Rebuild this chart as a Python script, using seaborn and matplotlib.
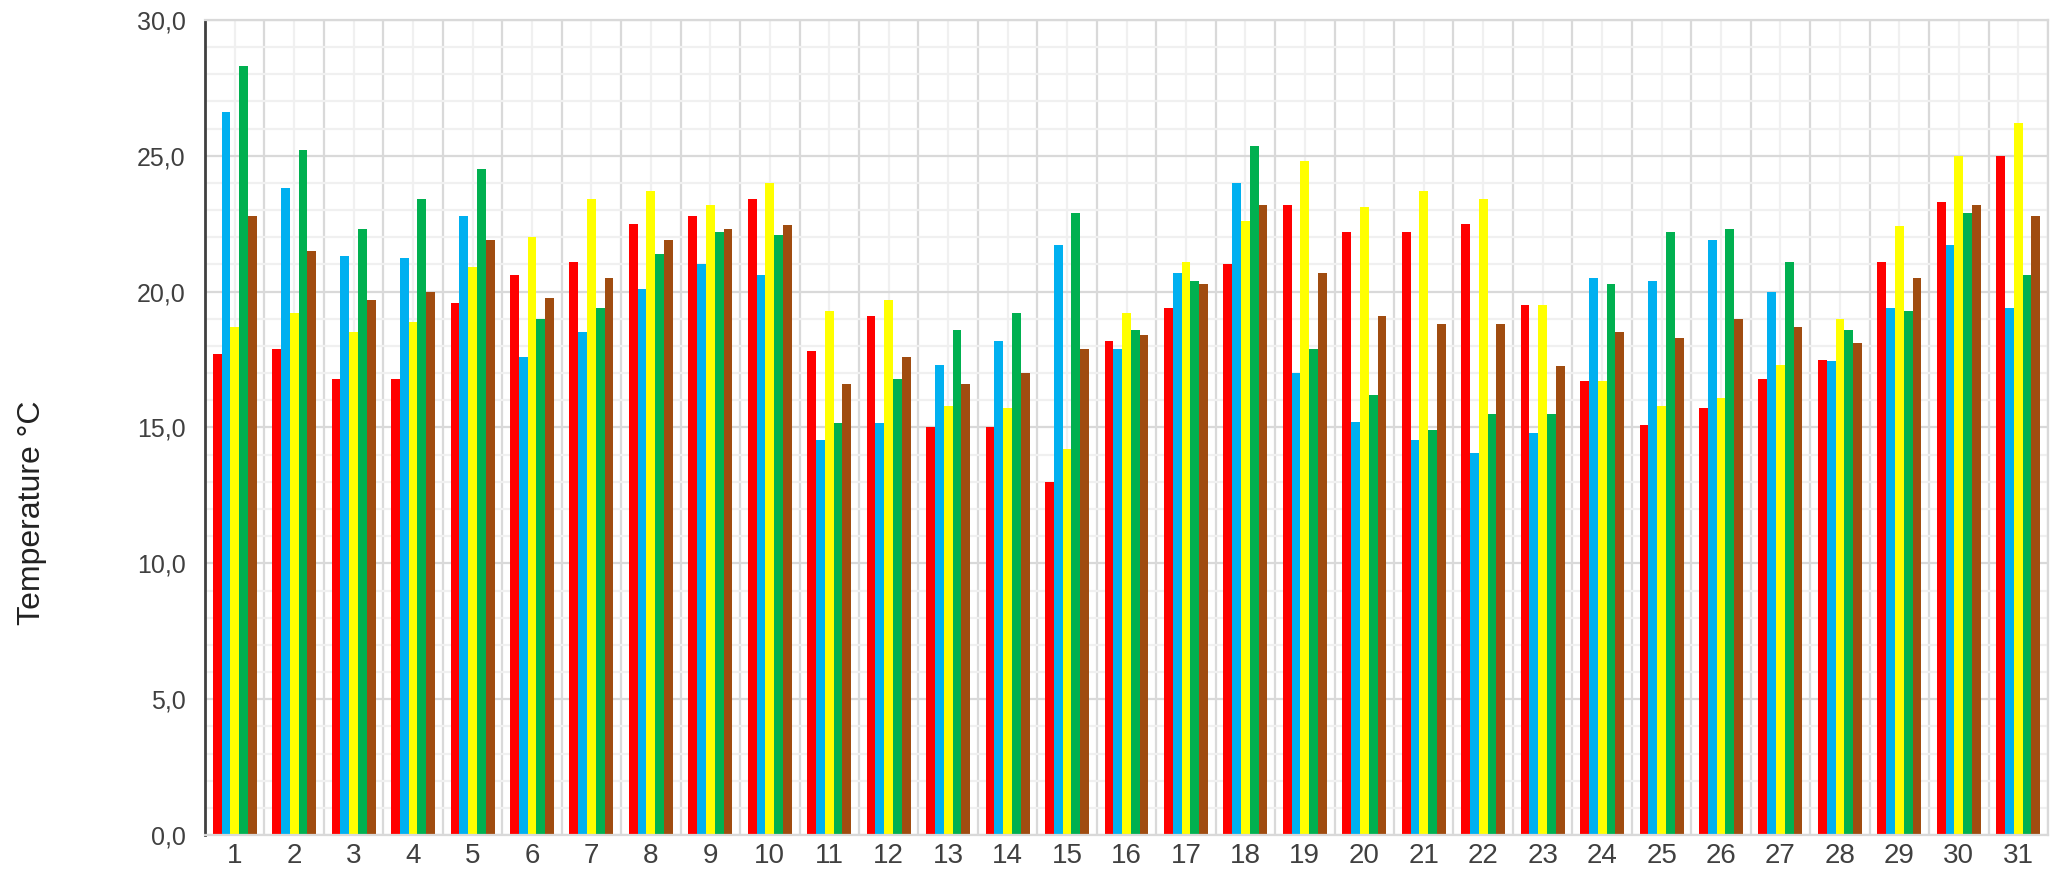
import numpy as np
import pandas as pd
import seaborn as sns
import matplotlib.pyplot as plt
from matplotlib.ticker import FixedLocator, FuncFormatter, MultipleLocator

days = [str(d) for d in range(1, 32)]

red_vals = [17.7, 17.9, 16.8, 16.8, 19.6, 20.6, 21.1, 22.5, 22.8, 23.4, 17.8,
            19.1, 15.0, 15.0, 13.0, 18.2, 19.4, 21.0, 23.2, 22.2, 22.2, 22.5,
            19.5, 16.7, 15.1, 15.7, 16.8, 17.5, 21.1, 23.3, 25.0]
blue_vals = [26.6, 23.8, 21.3, 21.25, 22.8, 17.6, 18.5, 20.1, 21.0, 20.6, 14.55,
             15.15, 17.3, 18.2, 21.7, 17.9, 20.7, 24.0, 17.0, 15.2, 14.55, 14.05,
             14.8, 20.5, 20.4, 21.9, 20.0, 17.45, 19.4, 21.7, 19.4]
yellow_vals = [18.7, 19.2, 18.5, 18.9, 20.9, 22.0, 23.4, 23.7, 23.2, 24.0, 19.3,
               19.7, 15.8, 15.7, 14.2, 19.2, 21.1, 22.6, 24.8, 23.1, 23.7, 23.4,
               19.5, 16.7, 15.8, 16.1, 17.3, 19.0, 22.4, 25.0, 26.2]
green_vals = [28.3, 25.2, 22.3, 23.4, 24.5, 19.0, 19.4, 21.4, 22.2, 22.1, 15.15,
              16.8, 18.6, 19.2, 22.9, 18.6, 20.4, 25.35, 17.9, 16.2, 14.9, 15.5,
              15.5, 20.3, 22.2, 22.3, 21.1, 18.6, 19.3, 22.9, 20.6]
brown_vals = [22.8, 21.5, 19.7, 20.0, 21.9, 19.75, 20.5, 21.9, 22.3, 22.45, 16.6,
              17.6, 16.6, 17.0, 17.9, 18.4, 20.3, 23.2, 20.7, 19.1, 18.8, 18.8,
              17.25, 18.5, 18.3, 19.0, 18.7, 18.1, 20.5, 23.2, 22.8]

series_names = ["red", "blue", "yellow", "green", "brown"]
series_colors = ["#FF0000", "#00B0F0", "#FFFF00", "#00B050", "#A04C10"]

df = pd.DataFrame({
    "day": days * 5,
    "series": np.repeat(series_names, len(days)),
    "temp": red_vals + blue_vals + yellow_vals + green_vals + brown_vals,
})

sns.set_theme(style="white")
tick_font = ["Liberation Sans Narrow", "Liberation Sans", "DejaVu Sans"]

fig = plt.figure(figsize=(20.61, 8.74), dpi=100)
ax = fig.add_axes([205 / 2061, 39 / 874, 1843 / 2061, 815 / 874])

sns.barplot(
    data=df, x="day", y="temp", hue="series",
    hue_order=series_names, palette=series_colors,
    width=0.74, gap=0, linewidth=0, saturation=1,
    legend=False, ax=ax,
)

ax.set_xlim(-0.5, 30.5)
ax.set_ylim(0, 30)

# y axis: major every 5, minor every 1
ax.yaxis.set_major_locator(MultipleLocator(5))
ax.yaxis.set_minor_locator(MultipleLocator(1))
ax.yaxis.set_major_formatter(FuncFormatter(lambda v, p: f"{v:.1f}".replace(".", ",")))

# x axis: labels at centres, separators at boundaries
ax.xaxis.set_major_locator(FixedLocator(range(31)))
ax.set_xticklabels(days)
ax.xaxis.set_minor_locator(FixedLocator(np.arange(-0.5, 31, 1)))

ax.set_axisbelow(True)
ax.grid(which="major", axis="y", color="#D9D9D9", linewidth=1.6)
ax.grid(which="minor", axis="y", color="#F0F0F0", linewidth=1.6)
ax.grid(which="minor", axis="x", color="#D9D9D9", linewidth=1.6)
ax.grid(which="major", axis="x", color="#F0F0F0", linewidth=1.6)

ax.tick_params(axis="y", which="both", length=0, pad=14, labelsize=18,
               labelcolor="#404040")
ax.tick_params(axis="x", which="major", length=0, pad=6, labelsize=20,
               labelcolor="#404040")
ax.tick_params(axis="x", which="minor", length=30, width=1.6, color="#D9D9D9",
               direction="out")
for lab in ax.get_xticklabels() + ax.get_yticklabels():
    lab.set_family(tick_font)

for side in ["top", "right", "bottom"]:
    ax.spines[side].set_color("#D9D9D9")
    ax.spines[side].set_linewidth(1.6)
ax.spines["left"].set_color("#404040")
ax.spines["left"].set_linewidth(2)

ax.set_xlabel("")
ax.set_ylabel("Temperature °C", fontsize=23, color="#222222",
              family=["Liberation Sans", "DejaVu Sans"])
ax.yaxis.set_label_coords(-0.0855, 0.396)

fig.savefig("out.png", dpi=100)
